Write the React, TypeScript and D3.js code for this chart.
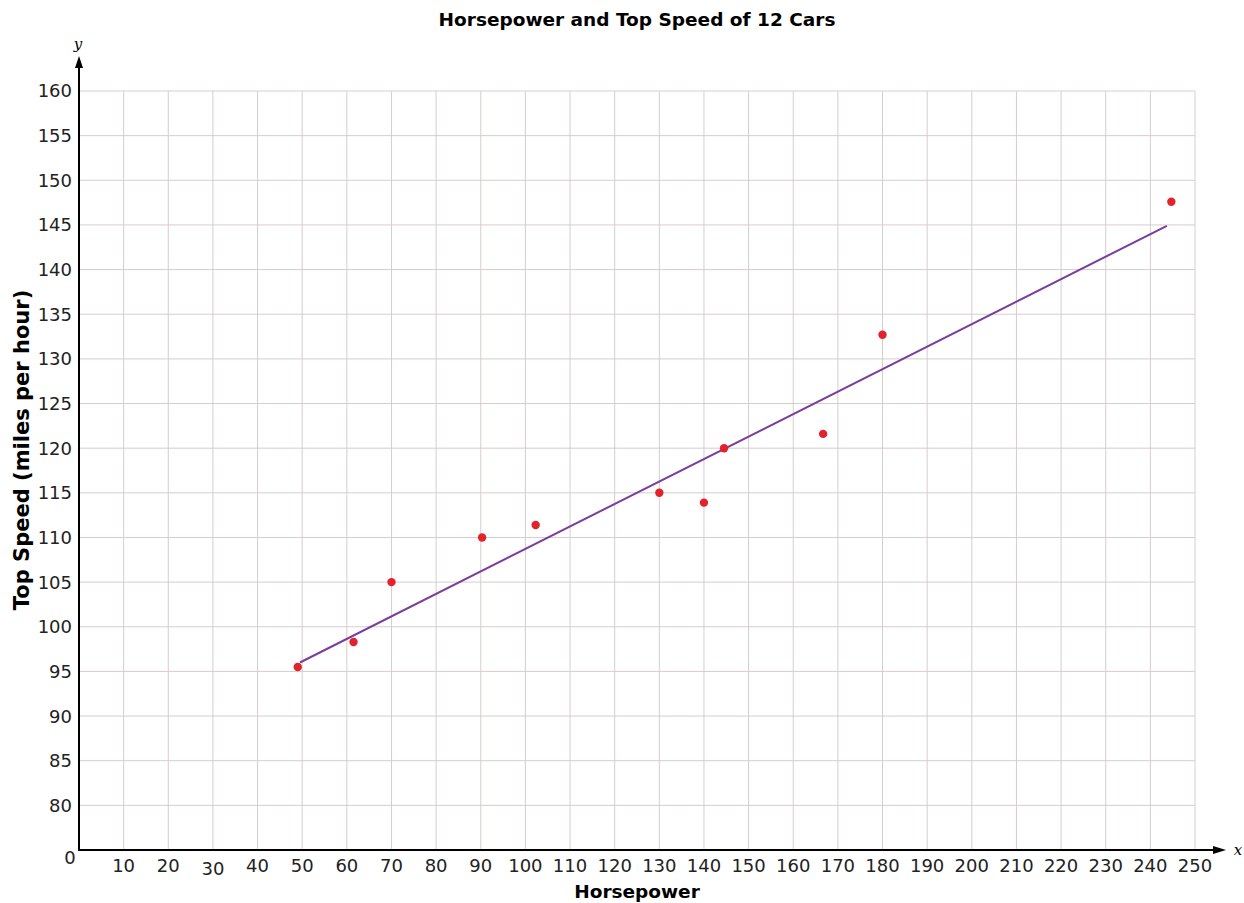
import React from "react";
import * as d3 from "d3";

// data
const horsepower = [49, 61.5, 70, 90.3, 102.3, 130, 140, 144.5, 166.7, 180, 244.7];
const topSpeed = [95.5, 98.3, 105, 110, 111.4, 115, 113.9, 120, 121.6, 132.7, 147.6];
const fitStart = [49.5, 96.0];
const fitEnd = [243.7, 144.9];
const xTicks = d3.range(10, 251, 10);
const yTicks = d3.range(80, 161, 5);

const W = 1244;
const H = 903;
const font = "DejaVu Sans, Verdana, sans-serif";

export default function App() {
  const x = d3.scaleLinear().domain([0, 250]).range([79, 1195]);
  const y = d3.scaleLinear().domain([75, 160]).range([850, 91]);

  const line = d3
    .line<number[]>()
    .x((d) => x(d[0]))
    .y((d) => y(d[1]));

  return (
    <svg
      width={W}
      height={H}
      style={{ position: "absolute", left: 0, top: 0, background: "#fff" }}
    >
      <text
        x={637}
        y={26}
        textAnchor="middle"
        fontFamily={font}
        fontWeight="bold"
        fontSize={18.5}
      >
        Horsepower and Top Speed of 12 Cars
      </text>

      {/* grid */}
      {xTicks.map((t) => (
        <line
          key={"gx" + t}
          x1={x(t)}
          x2={x(t)}
          y1={y(160)}
          y2={y(75)}
          stroke="#d8cccc"
          strokeWidth={1}
        />
      ))}
      {yTicks.map((t) => (
        <line
          key={"gy" + t}
          x1={x(0)}
          x2={x(250)}
          y1={y(t)}
          y2={y(t)}
          stroke="#d8cccc"
          strokeWidth={1}
        />
      ))}

      {/* axes */}
      <line x1={x(0)} x2={x(0)} y1={y(75)} y2={66} stroke="#000" strokeWidth={2} />
      <path d={`M${x(0) - 4},${68} L${x(0)},${56} L${x(0) + 4},${68} Z`} fill="#000" />
      <line x1={x(0) - 1} x2={1215} y1={y(75)} y2={y(75)} stroke="#000" strokeWidth={2} />
      <path d={`M1213,${y(75) - 4} L1226,${y(75)} L1213,${y(75) + 4} Z`} fill="#000" />
      <text x={78} y={49} textAnchor="middle" fontFamily="DejaVu Serif, serif" fontStyle="italic" fontSize={15}>
        y
      </text>
      <text x={1238} y={855} textAnchor="middle" fontFamily="DejaVu Serif, serif" fontStyle="italic" fontSize={15}>
        x
      </text>

      {/* tick labels */}
      {yTicks.map((t) => (
        <text
          key={"ly" + t}
          x={72}
          y={y(t)}
          dy="0.36em"
          textAnchor="end"
          fontFamily={font}
          fontSize={18}
          fill="#222"
        >
          {t}
        </text>
      ))}
      {xTicks.map((t) => (
        <text
          key={"lx" + t}
          x={x(t)}
          y={t === 30 ? 875 : 872}
          textAnchor="middle"
          fontFamily={font}
          fontSize={18}
          fill="#222"
        >
          {t}
        </text>
      ))}
      <text x={70} y={864} textAnchor="middle" fontFamily={font} fontSize={18} fill="#222">
        0
      </text>

      {/* axis titles */}
      <text
        x={637}
        y={898}
        textAnchor="middle"
        fontFamily={font}
        fontWeight="bold"
        fontSize={18.5}
      >
        Horsepower
      </text>
      <text
        transform={`translate(29,450) rotate(-90)`}
        textAnchor="middle"
        fontFamily={font}
        fontWeight="bold"
        fontSize={21}
      >
        Top Speed (miles per hour)
      </text>

      {/* fit line */}
      <path d={line([fitStart, fitEnd]) || ""} stroke="#7a3d9c" strokeWidth={2} fill="none" />

      {/* points */}
      {horsepower.map((hp, i) => (
        <circle key={i} cx={x(hp)} cy={y(topSpeed[i])} r={4.2} fill="#e3232b" />
      ))}
    </svg>
  );
}
